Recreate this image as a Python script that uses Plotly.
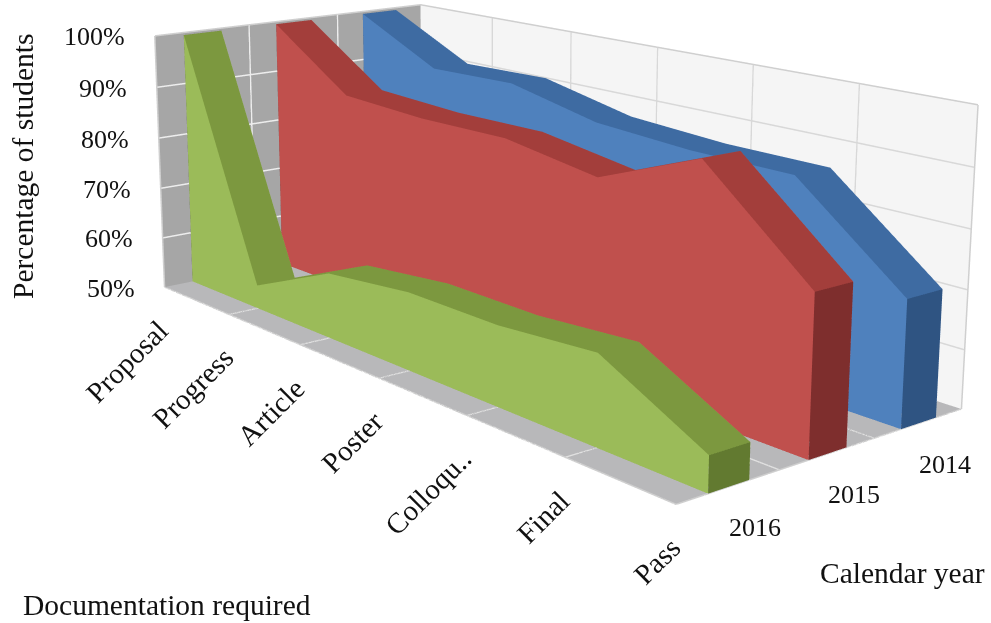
import plotly.graph_objects as go

# Category and series data (share of students, percent)
categories = ["Proposal", "Progress", "Article", "Poster", "Colloqu..", "Final", "Pass"]
years = ["2016", "2015", "2014"]
percent_ticks = [50, 60, 70, 80, 90, 100]
values_2016 = [99.5, 54.5, 62.1, 64.0, 63.9, 65.3, 55.9]
values_2015 = [99.5, 88.5, 87.7, 87.9, 85.2, 92.5, 76.4]
values_2014 = [99.5, 91.3, 91.7, 87.9, 86.8, 86.7, 71.3]

# Fill colours per series: front face, top strip, end cap
series = [
    (values_2016, "#9BBB59", "#7C983F", "#627A30"),
    (values_2015, "#C0504D", "#A33E3B", "#7E2E2D"),
    (values_2014, "#4F81BD", "#3E6BA2", "#2F5482"),
]

FIG_W, FIG_H = 1112, 1676      # drawing surface; the page shows a window of it
OFFSET_X, OFFSET_Y = -119, -661
BASE = percent_ticks[0]
TOP = percent_ticks[-1]
X_MAX = len(categories) - 1
Y_MAX = len(years)
FONT = "Liberation Serif"
INK = "#111111"


def page_x(px):
    return (px - OFFSET_X) / FIG_W


def page_y(py):
    return 1 - (py - OFFSET_Y) / FIG_H


def solid(values, y_front, y_back, front, top, cap):
    """One extruded area band as a flat-shaded mesh."""
    xs, ys, zs, ii, jj, kk, colors = [], [], [], [], [], [], []

    def quad(corners, color):
        base = len(xs)
        for cx, cy, cz in corners:
            xs.append(cx)
            ys.append(cy)
            zs.append(cz)
        ii.extend([base, base])
        jj.extend([base + 1, base + 2])
        kk.extend([base + 2, base + 3])
        colors.extend([color, color])

    for i in range(len(values) - 1):
        z0, z1 = values[i], values[i + 1]
        for y in (y_front, y_back):
            quad([(i, y, BASE), (i, y, z0), (i + 1, y, z1), (i + 1, y, BASE)], front)
        quad([(i, y_front, z0), (i, y_back, z0), (i + 1, y_back, z1), (i + 1, y_front, z1)], top)
    for i in (0, len(values) - 1):
        quad([(i, y_front, BASE), (i, y_front, values[i]), (i, y_back, values[i]), (i, y_back, BASE)], cap)
    return go.Mesh3d(x=xs, y=ys, z=zs, i=ii, j=jj, k=kk, facecolor=colors, flatshading=True,
                     lighting=dict(ambient=1, diffuse=0, specular=0, fresnel=0, roughness=1),
                     hoverinfo="skip", showscale=False)


def wall_lines(segments, color, width):
    xs, ys, zs = [], [], []
    for a, b in segments:
        xs += [a[0], b[0], None]
        ys += [a[1], b[1], None]
        zs += [a[2], b[2], None]
    return go.Scatter3d(x=xs, y=ys, z=zs, mode="lines", line=dict(color=color, width=width),
                        hoverinfo="skip", showlegend=False)


fig = go.Figure()

# Grid on each wall, then the wall outlines
x_ticks = range(len(categories))
y_ticks = range(Y_MAX + 1)
left_grid = [((0, 0, z), (0, Y_MAX, z)) for z in percent_ticks[1:-1]] + \
            [((0, y, BASE), (0, y, TOP)) for y in y_ticks[1:-1]]
back_grid = [((0, Y_MAX, z), (X_MAX, Y_MAX, z)) for z in percent_ticks[1:-1]] + \
            [((x, Y_MAX, BASE), (x, Y_MAX, TOP)) for x in x_ticks[1:-1]]
floor_grid = [((x, 0, BASE), (x, Y_MAX, BASE)) for x in x_ticks[1:-1]] + \
             [((0, y, BASE), (X_MAX, y, BASE)) for y in y_ticks[1:-1]]
outline = [
    ((0, 0, BASE), (0, 0, TOP)), ((0, 0, TOP), (0, Y_MAX, TOP)), ((0, Y_MAX, TOP), (X_MAX, Y_MAX, TOP)),
    ((X_MAX, Y_MAX, TOP), (X_MAX, Y_MAX, BASE)), ((X_MAX, Y_MAX, BASE), (X_MAX, 0, BASE)),
    ((X_MAX, 0, BASE), (0, 0, BASE)),
]
fig.add_trace(wall_lines(left_grid, "#EDEDED", 3))
fig.add_trace(wall_lines(back_grid, "#D8D8D8", 3))
fig.add_trace(wall_lines(floor_grid, "#E0E0E0", 3))
fig.add_trace(wall_lines(outline, "#CFCFCF", 3))

# Area bands, front to back
for j, (vals, front, top, cap) in enumerate(series):
    fig.add_trace(solid(vals, j + 0.3, j + 0.7, front, top, cap))

# Axis labels anchored to the data space
labels = []
for i, name in enumerate(categories):
    labels.append(dict(x=i, y=0, z=BASE, text=name, textangle=-45, xanchor="right", yanchor="top",
                       xshift=13, yshift=-24, showarrow=False, font=dict(family=FONT, size=29, color=INK)))
for j, name in enumerate(years):
    labels.append(dict(x=X_MAX, y=j + 0.5, z=BASE, text=name, xanchor="center", yanchor="middle",
                       xshift=26, yshift=-41, showarrow=False, font=dict(family=FONT, size=26, color=INK)))
for z in percent_ticks:
    labels.append(dict(x=0, y=0, z=z, text=f"{z}%", xanchor="right", yanchor="middle", xshift=-28, yshift=-1,
                       showarrow=False, font=dict(family=FONT, size=26, color=INK)))


def axis(rng, wall):
    return dict(range=rng, showgrid=False, zeroline=False, showline=False, showticklabels=False, ticks="",
                title="", showspikes=False, showbackground=True, backgroundcolor=wall)


title_font = dict(family=FONT, size=29.5, color=INK)
fig.update_layout(
    width=FIG_W, height=FIG_H, autosize=False, margin=dict(l=0, r=0, t=0, b=0), paper_bgcolor="white",
    showlegend=False,
    scene=dict(
        xaxis=axis([0, X_MAX], "#A6A6A6"), yaxis=axis([0, Y_MAX], "#F5F5F5"), zaxis=axis([BASE, TOP], "#B8B8BA"),
        domain=dict(x=[0, 1], y=[0, 1]), aspectmode="manual", aspectratio=dict(x=1.8570, y=0.8303, z=0.6486),
        camera=dict(eye=dict(x=3.4337, y=-2.9076, z=1.1143), center=dict(x=-0.1315, y=-0.1487, z=0.0679),
                    up=dict(x=-0.0233, y=0.0268, z=1), projection=dict(type="perspective")),
        annotations=labels, dragmode=False,
    ),
    annotations=[
        dict(x=page_x(23), y=page_y(167), xref="paper", yref="paper", text="Percentage of students", textangle=-90,
             showarrow=False, xanchor="center", yanchor="middle", font=title_font),
        dict(x=page_x(21), y=page_y(605), xref="paper", yref="paper", text="Documentation required",
             showarrow=False, xanchor="left", yanchor="middle", font=title_font),
        dict(x=page_x(818), y=page_y(573), xref="paper", yref="paper", text="Calendar year",
             showarrow=False, xanchor="left", yanchor="middle", font=title_font),
    ],
)

# Shift the surface so the scene's vanishing geometry sits where the window shows it
fig.write_html("out.html", post_script=(
    "var g=document.getElementById('{plot_id}');g.style.position='absolute';"
    f"g.style.left='{OFFSET_X}px';g.style.top='{OFFSET_Y}px';"
    "document.documentElement.style.overflow='hidden';document.body.style.overflow='hidden';"))
